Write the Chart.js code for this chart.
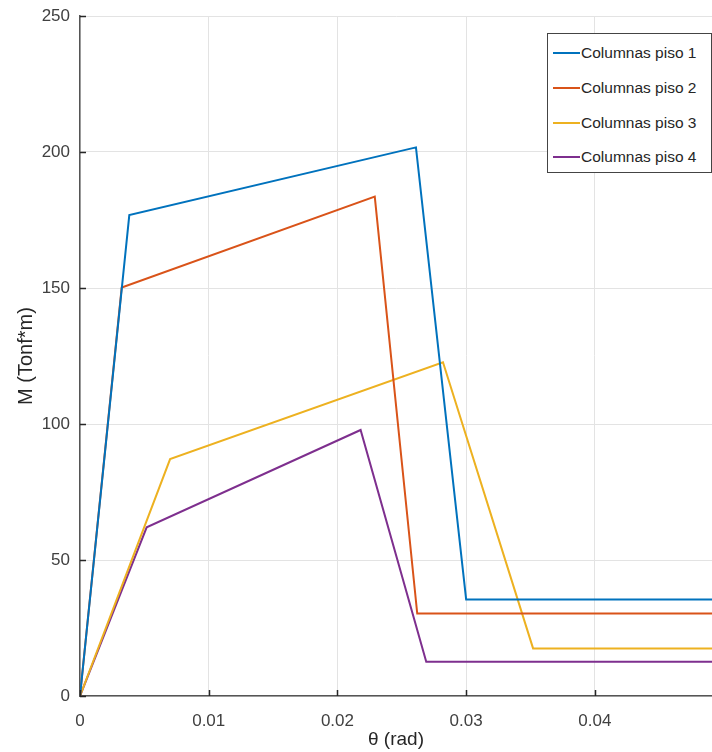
<!DOCTYPE html>
<html>
<head>
<meta charset="utf-8">
<script src="https://cdn.jsdelivr.net/npm/chart.js@4"></script>
<style>
  body { margin: 0; background: #fff; }
  #wrap { position: relative; width: 712px; height: 752px; }
  #leyenda {
    position: absolute; left: 547px; top: 33px; width: 165px; height: 140px;
    border: 1px solid #444; background: #fff; box-sizing: border-box;
    font-family: "Liberation Sans", Arial, sans-serif; font-size: 15.5px; color: #262626;
    padding-top: 2px;
  }
  .item { display: flex; align-items: center; height: 34.7px; }
  .linea { width: 27px; height: 2px; margin-left: 5px; margin-right: 1px; }
</style>
</head>
<body>
<div id="wrap">
  <canvas id="grafico" width="712" height="752"></canvas>
  <div id="leyenda"></div>
</div>
<script>
// Curvas momento-rotación
const nombres = ['Columnas piso 1', 'Columnas piso 2', 'Columnas piso 3', 'Columnas piso 4'];
const colores = ['#0072BD', '#D95319', '#EDB120', '#7E2F8E'];

const thetaPiso1 = [0, 0.00383, 0.0261, 0.0300, 0.05];
const momentoPiso1 = [0, 176.8, 201.7, 35.5, 35.5];

const thetaPiso2 = [0, 0.00324, 0.0229, 0.0262, 0.05];
const momentoPiso2 = [0, 150.2, 183.6, 30.3, 30.3];

const thetaPiso3 = [0, 0.0070, 0.0282, 0.0352, 0.05];
const momentoPiso3 = [0, 87.1, 122.7, 17.5, 17.5];

const thetaPiso4 = [0, 0.00518, 0.0218, 0.0269, 0.05];
const momentoPiso4 = [0, 62.0, 97.8, 12.6, 12.6];

const ticksX = [0, 0.01, 0.02, 0.03, 0.04];
const ticksY = [0, 50, 100, 150, 200, 250];

const thetas = [thetaPiso1, thetaPiso2, thetaPiso3, thetaPiso4];
const momentos = [momentoPiso1, momentoPiso2, momentoPiso3, momentoPiso4];

const fuente = '"Liberation Sans", Arial, sans-serif';

const datasets = nombres.map((nombre, i) => ({
  label: nombre,
  data: thetas[i].map((t, k) => ({ x: t, y: momentos[i][k] })),
  borderColor: colores[i],
  borderWidth: 2,
  pointRadius: 0,
  fill: false,
  tension: 0
}));

// Marcas de los ejes hacia adentro (estilo MATLAB)
const marcasInternas = {
  id: 'marcasInternas',
  afterDraw(chart) {
    const ctx = chart.ctx;
    const xs = chart.scales.x, ys = chart.scales.y;
    const area = chart.chartArea;
    ctx.save();
    ctx.strokeStyle = '#262626';
    ctx.lineWidth = 1.5;
    ctx.beginPath();
    ticksX.forEach(v => {
      const p = Math.round(xs.getPixelForValue(v)) + 0.5;
      ctx.moveTo(p, area.bottom);
      ctx.lineTo(p, area.bottom - 6);
    });
    ticksY.forEach(v => {
      const p = Math.round(ys.getPixelForValue(v)) + 0.5;
      ctx.moveTo(area.left, p);
      ctx.lineTo(area.left + 6, p);
    });
    ctx.stroke();
    ctx.restore();
  }
};

const ctx = document.getElementById('grafico').getContext('2d');
const grafico = new Chart(ctx, {
  type: 'line',
  data: { datasets: datasets },
  options: {
    responsive: false,
    animation: false,
    layout: { padding: { top: 16, right: 0, left: 0, bottom: 0 } },
    plugins: { legend: { display: false }, tooltip: { enabled: false } },
    scales: {
      x: {
        type: 'linear',
        min: 0,
        max: 0.0491,
        afterBuildTicks: s => { s.ticks = ticksX.map(v => ({ value: v })); },
        afterFit: s => { s.height = 56; s.paddingLeft = 0; s.paddingRight = 0; },
        grid: { color: '#e3e3e3', drawTicks: false },
        border: { color: '#555', width: 1.5 },
        ticks: {
          padding: 15,
          color: '#404040',
          font: { family: fuente, size: 17 },
          callback: v => String(v)
        },
        title: {
          display: true,
          text: 'θ (rad)',
          color: '#262626',
          font: { family: fuente, size: 19 },
          padding: { top: 0, bottom: 1 }
        }
      },
      y: {
        min: 0,
        max: 250,
        afterBuildTicks: s => { s.ticks = ticksY.map(v => ({ value: v })); },
        afterFit: s => { s.width = 80; s.paddingTop = 0; s.paddingBottom = 0; },
        grid: { color: '#e3e3e3', drawTicks: false },
        border: { color: '#555', width: 1.5 },
        ticks: {
          padding: 10,
          color: '#404040',
          font: { family: fuente, size: 17 }
        },
        title: {
          display: true,
          text: 'M (Tonf*m)',
          color: '#262626',
          font: { family: fuente, size: 20 },
          padding: { top: 14, bottom: 0 }
        }
      }
    }
  },
  plugins: [marcasInternas]
});

// Leyenda dentro del área del gráfico
const leyenda = document.getElementById('leyenda');
grafico.data.datasets.forEach(ds => {
  const item = document.createElement('div');
  item.className = 'item';
  item.innerHTML = `<span class="linea" style="background:${ds.borderColor}"></span><span>${ds.label}</span>`;
  leyenda.appendChild(item);
});
</script>
</body>
</html>
